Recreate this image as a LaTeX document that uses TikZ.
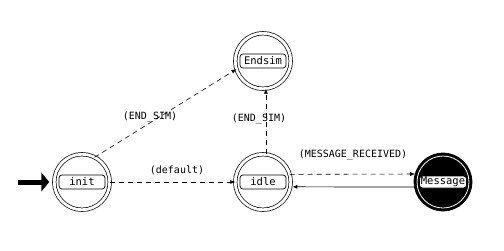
\documentclass[tikz,border=0pt]{standalone}
\usepackage{fontspec}
\setmonofont{DejaVu Sans Mono}
\usetikzlibrary{arrows.meta}
\tikzset{
  statecirc/.style={circle, draw, double, double distance=2.8pt, line width=0.7pt,
    minimum size=55.5pt, inner sep=0pt, outer sep=0pt},
  finalcirc/.style={circle, draw=black, fill=black, line width=0.7pt,
    minimum size=58pt, inner sep=0pt, outer sep=0pt},
  statebox/.style={draw, fill=white, rounded corners=3pt, minimum width=46pt,
    minimum height=14pt, inner sep=0pt, line width=0.7pt,
    font=\fontsize{10.5}{12}\selectfont\ttfamily},
  elabel/.style={inner sep=0pt, font=\fontsize{10}{12}\selectfont\ttfamily},
  trans/.style={line width=0.6pt, dash pattern=on 5pt off 4pt,
    -{Latex[length=5pt,width=4pt]}},
  back/.style={line width=0.7pt, -{Latex[length=5pt,width=4pt]}},
  startarrow/.style={line width=5pt, -{Triangle[length=8pt,width=19pt]}}
}
\begin{document}
\begin{tikzpicture}[x=1pt,y=-1pt]
\useasboundingbox (0,0) rectangle (504,250);
\fill[white] (0,0) rectangle (504,250);
% states
\node[statecirc] (init) at (82,182) {};
\node[statebox] (initlbl) at (init) {init};
\node[statecirc] (idle) at (263,182) {};
\node[statebox] (idlelbl) at (idle) {idle};
\node[statecirc] (endsim) at (263,61) {};
\node[statebox] (endsimlbl) at (endsim) {Endsim};
\node[finalcirc] (msg) at (443,182) {};
\draw[white, line width=0.8pt] (msg.center) circle (26pt);
\node[statebox, minimum height=12pt, minimum width=47pt] (msglbl) at (msg) {Message};
% initial arrow
\coordinate (start) at (18,182);
\draw[startarrow, shorten >=5pt] (start) -- (init);
% transitions
\draw[trans] (init.63) -- (endsim.197);
\node[elabel] (l1) at (150,117) {(END\_SIM)};
\draw[trans] (init.east) -- (idle.west);
\node[elabel] (l2) at (177,170) {(default)};
\draw[trans] (idle.84) -- (endsim.276);
\node[elabel] (l3) at (259,119) {(END\_SIM)};
\draw[trans] (idle.16) -- (msg.164);
\node[elabel] (l4) at (353,155) {(MESSAGE\_RECEIVED)};
\draw[back, shorten >=2pt] (msg.190) -- (idle.-10);
\end{tikzpicture}
\end{document}
